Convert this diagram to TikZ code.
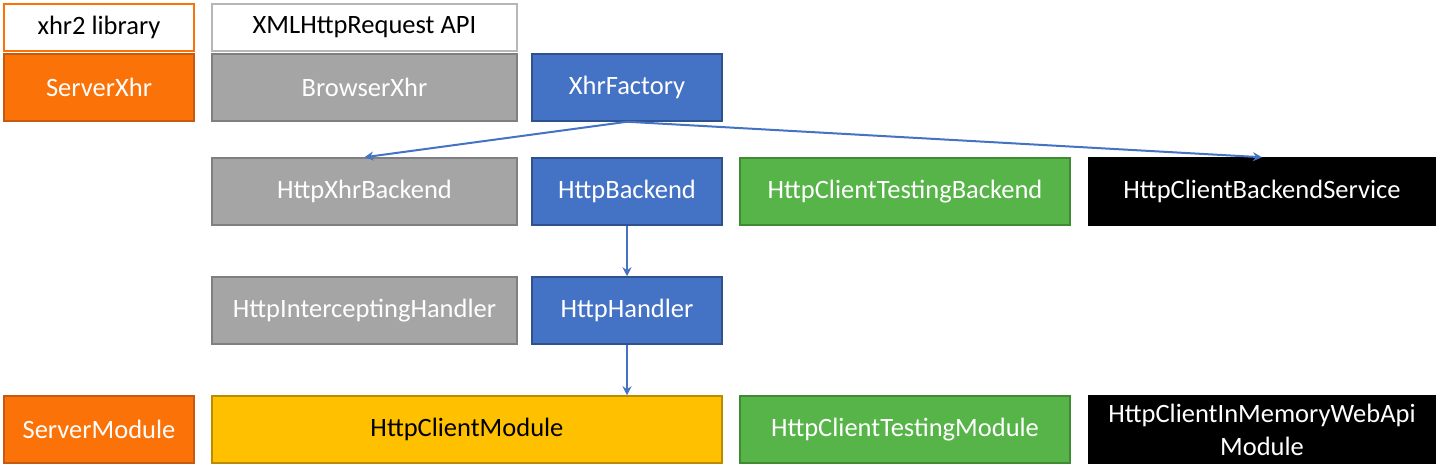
\documentclass[tikz,border=0pt]{standalone}
\usepackage{fontspec}
\setmainfont{Carlito}
\usetikzlibrary{arrows.meta}
\definecolor{orf}{HTML}{FA7208}
\definecolor{ord}{HTML}{C55A11}
\definecolor{grf}{HTML}{A5A5A5}
\definecolor{grd}{HTML}{7F7F7F}
\definecolor{blf}{HTML}{4472C4}
\definecolor{bld}{HTML}{2F528F}
\definecolor{gnf}{HTML}{56B448}
\definecolor{gnd}{HTML}{3F8A32}
\definecolor{ylf}{HTML}{FFC000}
\definecolor{yld}{HTML}{BC8C00}
\tikzset{
  box/.style={draw, line width=1.5pt, minimum height=67pt, inner sep=0pt, font=\fontsize{26.5}{33}\selectfont, text=white, align=center},
  orbox/.style={box, fill=orf, draw=ord},
  grbox/.style={box, fill=grf, draw=grd},
  blbox/.style={box, fill=blf, draw=bld},
  gnbox/.style={box, fill=gnf, draw=gnd},
  ylbox/.style={box, fill=ylf, draw=yld, text=black},
  bkbox/.style={box, fill=black, draw=black},
  lbl/.style={box, fill=white, minimum height=47pt, text=black},
  arr/.style={draw=blf, line width=2pt, -{Stealth[length=9pt,width=9pt]}},
}
\begin{document}
\begin{tikzpicture}[x=1pt,y=-1pt]
\useasboundingbox (0,0) rectangle (1439,469);
% top labels
\node[lbl, draw=orf, minimum width=190pt] (xhr2) at (99,27.5) {xhr2 library};
\node[lbl, draw=grf!80, minimum width=305pt] (xmlapi) at (364.5,27.5) {XMLHttpRequest API};
% row 1
\node[orbox, minimum width=190pt] (serverxhr) at (99,87.5) {ServerXhr};
\node[grbox, minimum width=305pt] (browserxhr) at (364.5,87.5) {BrowserXhr};
\node[blbox, minimum width=190pt] (xhrfactory) at (627,87.5) {XhrFactory};
% row 2
\node[grbox, minimum width=305pt] (xhrbackend) at (364.5,191.5) {HttpXhrBackend};
\node[blbox, minimum width=190pt] (backend) at (627,191.5) {HttpBackend};
\node[gnbox, minimum width=330pt] (testbackend) at (905,191.5) {HttpClientTestingBackend};
\node[bkbox, minimum width=346pt] (backendsvc) at (1262,191.5) {HttpClientBackendService};
% row 3
\node[grbox, minimum width=305pt] (intercept) at (364.5,310.5) {HttpInterceptingHandler};
\node[blbox, minimum width=190pt] (handler) at (627,310.5) {HttpHandler};
% row 4
\node[orbox, minimum width=190pt] (servermod) at (99,429.5) {ServerModule};
\node[ylbox, minimum width=510pt] (clientmod) at (467,429.5) {HttpClientModule};
\node[gnbox, minimum width=330pt] (testmod) at (905,429.5) {HttpClientTestingModule};
\node[bkbox, minimum width=346pt] (inmem) at (1262,429.5) {HttpClientInMemoryWebApi\\Module};
% arrows
\draw[arr] (xhrfactory.south) -- (xhrbackend.north);
\draw[arr] (xhrfactory.south) -- (backendsvc.north);
\draw[arr] (backend.south) -- (handler.north);
\draw[arr] (handler.south) -- (handler.south |- clientmod.north);
\end{tikzpicture}
\end{document}
